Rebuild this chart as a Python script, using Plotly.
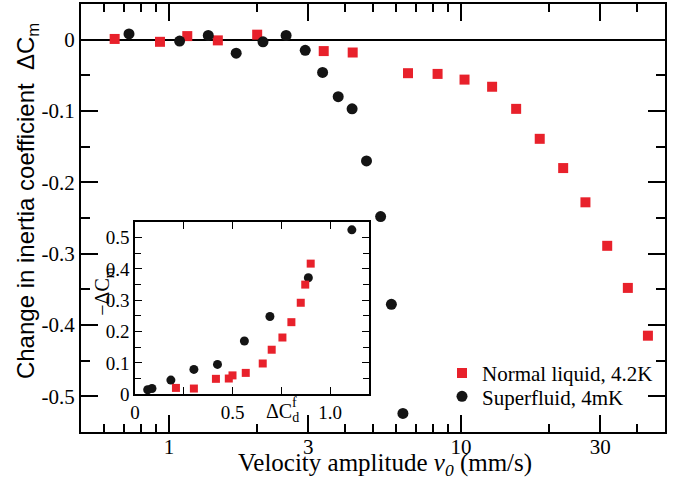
import math
import plotly.graph_objects as go

# ---- main panel data ----
normal_v = [0.652, 0.932, 1.156, 1.471, 2.006, 3.39, 4.26, 6.59, 8.32, 10.29,
            12.79, 15.46, 18.62, 22.4, 26.7, 31.7, 37.3, 43.7]
normal_dcm = [0.001, -0.003, 0.005, -0.001, 0.007, -0.016, -0.018, -0.047, -0.048,
              -0.056, -0.066, -0.097, -0.139, -0.180, -0.228, -0.289, -0.348, -0.415]

super_v = [0.730, 1.088, 1.364, 1.70, 2.10, 2.52, 2.93, 3.36, 3.80, 4.24,
           4.75, 5.31, 5.78, 6.33]
super_dcm = [0.008, -0.002, 0.006, -0.019, -0.003, 0.006, -0.015, -0.046, -0.080,
             -0.097, -0.170, -0.248, -0.371, -0.524]

# ---- inset data (-dCm vs dCd^f) ----
inset_normal_x = [0.210, 0.302, 0.307, 0.415, 0.481, 0.500, 0.568, 0.655, 0.701,
                  0.756, 0.802, 0.850, 0.873, 0.901]
inset_normal_y = [0.020, 0.018, -0.003, 0.049, 0.050, 0.060, 0.068, 0.098, 0.142,
                  0.181, 0.230, 0.292, 0.350, 0.417]
inset_super_x = [0.065, 0.087, 0.184, 0.302, 0.423, 0.561, 0.692, 0.889, 1.112]
inset_super_y = [0.014, 0.018, 0.045, 0.079, 0.095, 0.170, 0.248, 0.372, 0.525]

# ---- tick labels ----
x_tickvals = [1, 3, 10, 30]
x_ticktext = ["1", "3", "10", "30"]
x_minor = [0.6, 0.7, 0.8, 0.9, 2, 4, 5, 6, 7, 8, 9, 20, 40]
y_tickvals = [0, -0.1, -0.2, -0.3, -0.4, -0.5]
y_ticktext = ["0", "-0.1", "-0.2", "-0.3", "-0.4", "-0.5"]
y_minor = [0.05, -0.05, -0.15, -0.25, -0.35, -0.45, -0.55]

ix_tickvals = [0, 0.5, 1.0]
ix_ticktext = ["0", "0.5", "1.0"]
ix_minor = [0.25, 0.75]
iy_tickvals = [0, 0.1, 0.2, 0.3, 0.4, 0.5]
iy_ticktext = ["0", "0.1", "0.2", "0.3", "0.4", "0.5"]
iy_minor = [0.05, 0.15, 0.25, 0.35, 0.45]

RED = "#e8212b"
BLACK = "#141414"
SERIF = "Liberation Serif"
SANS = "Liberation Sans"

W, H = 679, 483
L, R, T, B = 81, 14, 2, 51
PW, PH = W - L - R, H - T - B


def px(xp):
    return (xp - L) / PW


def py(yp):
    return (H - B - yp) / PH


fig = go.Figure()

fig.add_trace(go.Scatter(
    x=normal_v, y=normal_dcm, mode="markers", name="Normal liquid, 4.2K",
    marker=dict(symbol="square", size=10, color=RED), xaxis="x", yaxis="y",
    legend="legend", cliponaxis=False))
fig.add_trace(go.Scatter(
    x=super_v, y=super_dcm, mode="markers", name="Superfluid, 4mK",
    marker=dict(symbol="circle", size=11, color=BLACK), xaxis="x", yaxis="y",
    legend="legend2", cliponaxis=False))

fig.add_trace(go.Scatter(
    x=inset_super_x, y=inset_super_y, mode="markers", showlegend=False,
    marker=dict(symbol="circle", size=9, color=BLACK), xaxis="x2", yaxis="y2",
    cliponaxis=False))
fig.add_trace(go.Scatter(
    x=inset_normal_x, y=inset_normal_y, mode="markers", showlegend=False,
    marker=dict(symbol="square", size=8, color=RED), xaxis="x2", yaxis="y2",
    cliponaxis=False))

axis_common = dict(showline=True, linecolor="black", showgrid=False,
                   ticks="inside", tickcolor="black", mirror="ticks")

fig.update_layout(
    width=W, height=H,
    margin=dict(l=L, r=R, t=T, b=B),
    paper_bgcolor="white", plot_bgcolor="white",
    font=dict(family=SERIF, color="black", size=21),
    xaxis=dict(
        type="log", range=[math.log10(0.5), math.log10(50)], domain=[0, 1],
        tickmode="array", tickvals=x_tickvals, ticktext=x_ticktext,
        ticklen=17, tickwidth=1.5, linewidth=2, ticklabelstandoff=-5,
        tickfont=dict(family=SERIF, size=21),
        minor=dict(tickmode="array", tickvals=x_minor, ticks="inside",
                   ticklen=8, tickwidth=1.5, tickcolor="black"),
        zeroline=False, **axis_common),
    yaxis=dict(
        range=[-0.55, 0.05], domain=[0, 1],
        tickmode="array", tickvals=y_tickvals, ticktext=y_ticktext,
        ticklen=17, tickwidth=1.5, linewidth=2,
        tickfont=dict(family=SERIF, size=21),
        minor=dict(tickmode="array", tickvals=y_minor, ticks="inside",
                   ticklen=9, tickwidth=1.5, tickcolor="black"),
        zeroline=True, zerolinecolor="black", zerolinewidth=1.5,
        **axis_common),
    xaxis2=dict(
        anchor="y2", domain=[px(135), px(369)], range=[0, 1.2],
        tickmode="array", tickvals=ix_tickvals, ticktext=ix_ticktext,
        ticklen=7, tickwidth=1.3, linewidth=1.5,
        tickfont=dict(family=SERIF, size=19), zeroline=False,
        minor=dict(tickmode="array", tickvals=ix_minor, ticks="inside",
                   ticklen=7, tickwidth=1.3, tickcolor="black"),
        **axis_common),
    yaxis2=dict(
        anchor="x2", domain=[py(394), py(221)], range=[0, 0.55],
        tickmode="array", tickvals=iy_tickvals, ticktext=iy_ticktext,
        ticklen=7, tickwidth=1.3, linewidth=1.5,
        tickfont=dict(family=SERIF, size=19), zeroline=False,
        minor=dict(tickmode="array", tickvals=iy_minor, ticks="inside",
                   ticklen=6, tickwidth=1.3, tickcolor="black"),
        **axis_common),
    legend=dict(x=px(442), y=py(373), xanchor="left", yanchor="middle",
                bgcolor="rgba(0,0,0,0)", font=dict(family=SERIF, size=21),
                itemwidth=30, borderwidth=0),
    legend2=dict(x=px(442), y=py(396.5), xanchor="left", yanchor="middle",
                 bgcolor="rgba(0,0,0,0)", font=dict(family=SERIF, size=21),
                 itemwidth=30, borderwidth=0),
    annotations=[
        dict(text="Velocity amplitude <i>v<sub>0</sub></i> (mm/s)",
             xref="paper", yref="paper", x=px(384.5), y=py(465),
             xanchor="center", yanchor="middle", showarrow=False,
             font=dict(family=SERIF, size=25)),
        dict(text="Change in inertia coefficient \u00a0\u0394C<sub>m</sub>",
             xref="paper", yref="paper", x=px(27), y=py(200),
             xanchor="center", yanchor="middle", showarrow=False,
             textangle=-90, font=dict(family=SANS, size=24)),
        dict(text="\u2212\u0394C<sub>m</sub>",
             xref="paper", yref="paper", x=px(104), y=py(291),
             xanchor="center", yanchor="middle", showarrow=False,
             textangle=-90, font=dict(family=SERIF, size=20)),
        dict(text="\u0394C<sub>d</sub>",
             xref="paper", yref="paper", x=px(282), y=py(412),
             xanchor="center", yanchor="middle", showarrow=False,
             font=dict(family=SERIF, size=20)),
        dict(text="f",
             xref="paper", yref="paper", x=px(294), y=py(402),
             xanchor="center", yanchor="middle", showarrow=False,
             font=dict(family=SERIF, size=14)),
    ],
)

fig.write_html("out.html")
